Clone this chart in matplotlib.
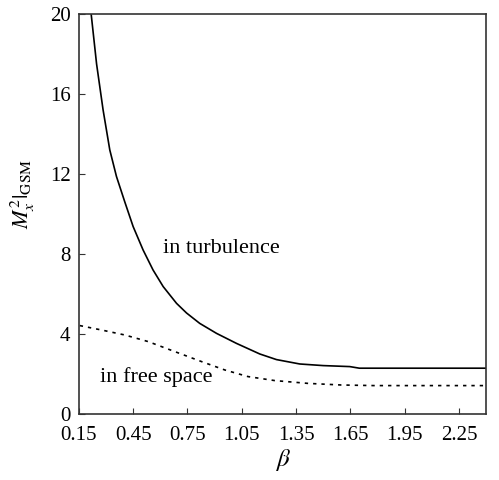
import numpy as np
import matplotlib
matplotlib.use('Agg')
import matplotlib.pyplot as plt

# ── Data ─────────────────────────────────────────────────────────────
beta_turb = [0.218, 0.248, 0.284, 0.321, 0.358, 0.404, 0.45, 0.505,
             0.56, 0.616, 0.69, 0.745, 0.818, 0.911, 1.021, 1.15,
             1.242, 1.371, 1.50, 1.647, 1.70, 1.92, 2.15, 2.40]
m2_turb = [20.0, 17.5, 15.2, 13.2, 11.87, 10.6, 9.37, 8.2,
           7.2, 6.37, 5.53, 5.05, 4.53, 4.03, 3.53, 3.0,
           2.72, 2.5, 2.42, 2.37, 2.29, 2.29, 2.29, 2.29]

beta_free = [0.155, 0.275, 0.404, 0.533, 0.68, 0.828, 0.957, 1.085,
             1.233, 1.417, 1.60, 1.785, 2.10, 2.40]
m2_free = [4.42, 4.2, 3.95, 3.62, 3.12, 2.62, 2.2, 1.87,
           1.67, 1.53, 1.45, 1.42, 1.42, 1.42]

xticks = [0.15, 0.45, 0.75, 1.05, 1.35, 1.65, 1.95, 2.25]
yticks = [0, 4, 8, 12, 16, 20]

plt.rcParams['font.family'] = 'Liberation Serif'
plt.rcParams['mathtext.fontset'] = 'stix'

fig = plt.figure(figsize=(4.99, 4.80), dpi=100)
ax = fig.add_axes([0.158, 0.1375, 0.816, 0.8335])

ax.plot(beta_turb, m2_turb, color='black', lw=1.2)
ax.plot(beta_free, m2_free, color='black', lw=1.2, ls=(0, (2, 3)))

ax.text(0.616, 8.03, 'in turbulence', fontsize=16, va='baseline', ha='left')
ax.text(0.266, 1.6, 'in free space', fontsize=16, va='baseline', ha='left')

ax.set_xlim(0.15, 2.40)
ax.set_ylim(0, 20)
ax.set_xticks(xticks)
ax.set_xticklabels([f'{v:.2f}' for v in xticks])
ax.set_yticks(yticks)
ax.tick_params(direction='in', labelsize=15, length=4, color='#333333',
               top=False, right=False)
ax.tick_params(axis='x', pad=9)
ax.tick_params(axis='y', pad=6)
for s in ax.spines.values():
    s.set_color('#333333')
    s.set_linewidth(1.2)

ax.set_xlabel(r'$\beta$', fontsize=18, labelpad=1)
ax.set_ylabel(r'$M_x^2|_{\rm GSM}$', fontsize=16)
ax.yaxis.set_label_coords(-0.103, 0.55)

fig.savefig('out.png', dpi=100)
